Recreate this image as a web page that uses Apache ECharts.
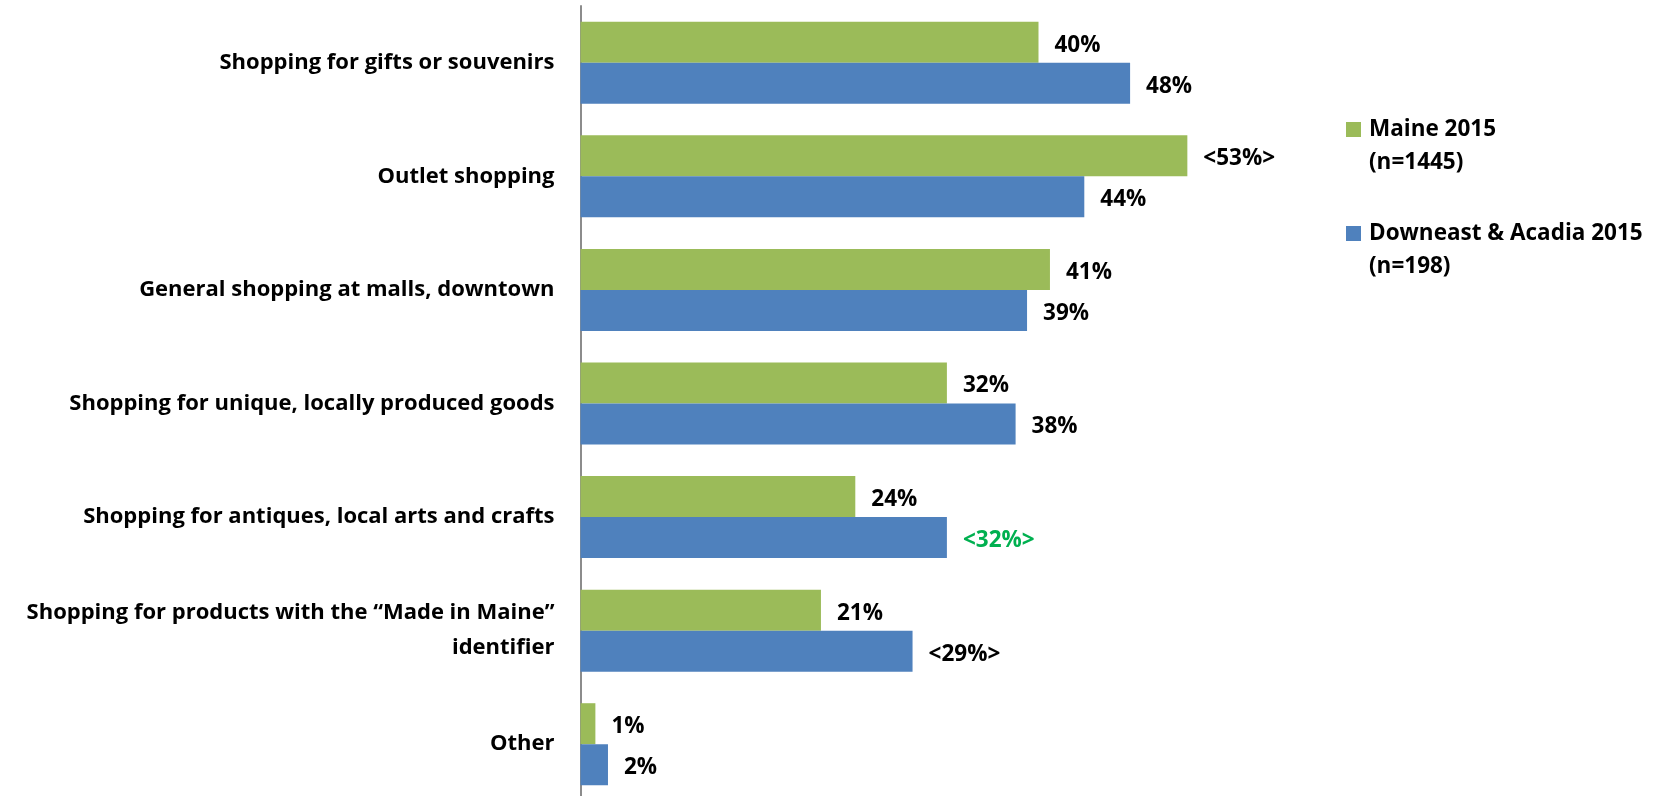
<!DOCTYPE html>
<html>
<head>
<meta charset="utf-8">
<script src="https://cdn.jsdelivr.net/npm/echarts@6/dist/echarts.min.js"></script>
<style>
html,body{margin:0;padding:0;background:#fff;}
#chart{width:1658px;height:796px;}
</style>
</head>
<body>
<div id="chart"></div>
<script>
var categories = [
  "Shopping for gifts or souvenirs",
  "Outlet shopping",
  "General shopping at malls, downtown",
  "Shopping for unique, locally produced goods",
  "Shopping for antiques, local arts and crafts",
  "Shopping for products with the \u201cMade in Maine\u201d\nidentifier",
  "Other"
];
var seriesNames = ["Maine 2015\n(n=1445)", "Downeast & Acadia 2015\n(n=198)"];
var maineValues = [40, 53, 41, 32, 24, 21, 1.3];
var downeastValues = [48, 44, 39, 38, 32, 29, 2.4];
var maineLabels = ["40%", "<53%>", "41%", "32%", "24%", "21%", "1%"];
var downeastLabels = ["48%", "44%", "39%", "38%", "<32%>", "<29%>", "2%"];
var downeastLabelColors = ["#000", "#000", "#000", "#000", "#00B050", "#000", "#000"];

var FONT = "'Open Sans'";

function mkData(values, labels, colors) {
  return values.map(function (v, i) {
    return {
      value: v,
      label: {
        formatter: labels[i],
        color: colors ? colors[i] : "#000"
      }
    };
  });
}

var valueLabel = {
  show: true, position: "right", distance: 16, offset: [0, 3],
  fontFamily: FONT, fontSize: 22.5, fontWeight: "bold"
};

var chart = echarts.init(document.getElementById("chart"), null, {renderer: "canvas"});
chart.setOption({
  animation: false,
  backgroundColor: "#ffffff",
  textStyle: {fontFamily: FONT},
  grid: {left: 580.5, top: 6, width: 687, height: 795, outerBoundsMode: "none", containLabel: false},
  legend: {
    orient: "vertical",
    left: 1341,
    top: 74,
    itemWidth: 15,
    itemHeight: 15,
    itemGap: 3,
    icon: "rect",
    formatter: function (name) { return "\n" + name; },
    textStyle: {
      fontFamily: FONT,
      fontSize: 22.5,
      fontWeight: "bold",
      color: "#000",
      lineHeight: 33,
      padding: [2, 0, 0, 3]
    },
    data: seriesNames
  },
  xAxis: {
    type: "value",
    min: 0,
    max: 60,
    show: false,
    splitLine: {show: false}
  },
  yAxis: {
    type: "category",
    inverse: true,
    data: categories,
    axisLine: {show: true, lineStyle: {color: "#8c8c8c", width: 2}},
    axisTick: {show: false},
    axisLabel: {
      fontFamily: FONT,
      fontSize: 22,
      fontWeight: "bold",
      color: "#000",
      margin: 26,
      lineHeight: 35,
      padding: [6, 0, 0, 0],
      align: "right"
    }
  },
  series: [
    {
      name: seriesNames[0],
      type: "bar",
      barWidth: 41,
      barGap: "0%",
      itemStyle: {color: "#9BBB59"},
      label: valueLabel,
      data: mkData(maineValues, maineLabels)
    },
    {
      name: seriesNames[1],
      type: "bar",
      barWidth: 41,
      barGap: "0%",
      itemStyle: {color: "#4F81BD"},
      label: valueLabel,
      data: mkData(downeastValues, downeastLabels, downeastLabelColors)
    }
  ]
});
</script>
</body>
</html>
